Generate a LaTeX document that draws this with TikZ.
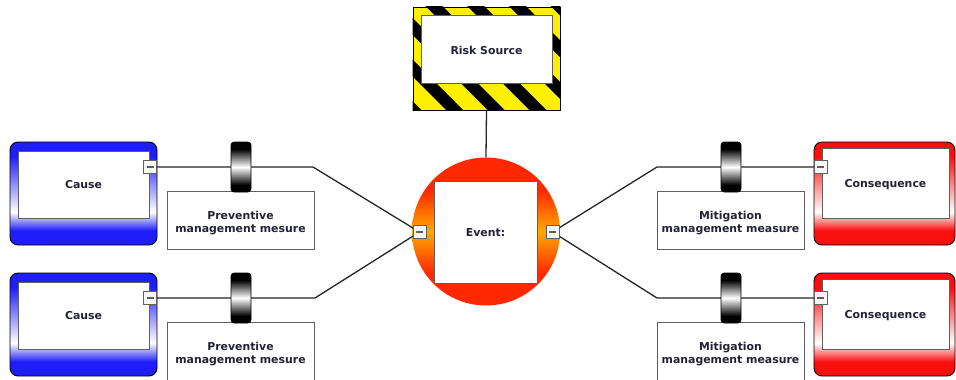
\documentclass[tikz,border=0pt]{standalone}
\usepackage{fontspec}
\setmainfont{DejaVu Sans}
\definecolor{cblue}{RGB}{30,30,250}
\definecolor{cred}{RGB}{250,15,15}
\definecolor{ered}{RGB}{255,40,0}
\definecolor{eorange}{RGB}{255,170,0}
\definecolor{txt}{RGB}{35,35,55}
\definecolor{hz}{RGB}{255,240,0}
\definecolor{edgegray}{RGB}{95,95,95}
\pgfdeclareverticalshading{causeshade}{100bp}{color(0bp)=(cblue); color(32bp)=(cblue); color(41bp)=(white); color(68bp)=(cblue); color(100bp)=(cblue)}
\pgfdeclareverticalshading{consshade}{100bp}{color(0bp)=(cred); color(32bp)=(cred); color(41bp)=(white); color(68bp)=(cred); color(100bp)=(cred)}
\pgfdeclareverticalshading{eventshade}{100bp}{color(0bp)=(ered); color(36bp)=(ered); color(50bp)=(eorange); color(64bp)=(ered); color(100bp)=(ered)}
\pgfdeclareverticalshading{barshade}{100bp}{color(0bp)=(black); color(32bp)=(black); color(50bp)=(white); color(68bp)=(black); color(100bp)=(black)}
\tikzset{
  lbl/.style={font=\fontsize{10.9}{13}\selectfont\bfseries, text=txt, align=center, inner sep=0pt},
  outerbox/.style={draw=black, line width=0.9pt, rounded corners=8pt, minimum width=147pt, minimum height=103pt, inner sep=0pt},
  innerbox/.style={draw=edgegray, line width=0.9pt, fill=white, inner sep=0pt},
  minusbox/.style={draw=edgegray, line width=0.8pt, fill=white!94!gray, minimum size=13pt, inner sep=0pt,
    path picture={\draw[edgegray, line width=1.1pt] ([xshift=-3.5pt]path picture bounding box.center) -- ([xshift=3.5pt]path picture bounding box.center);}},
  barrierbox/.style={draw=black, line width=0.6pt, rounded corners=3pt, shading=barshade, minimum width=20pt, minimum height=50pt, inner sep=0pt},
  measurebox/.style={draw=edgegray, line width=0.9pt, fill=white, minimum width=147pt, minimum height=58pt, inner sep=0pt},
  linkline/.style={draw=black!85, line width=1.3pt}
}
\begin{document}
\begin{tikzpicture}[x=1pt, y=-1pt]
\clip (0,0) rectangle (956,380);
\fill[white] (0,0) rectangle (956,380);

% ---------- Risk source ----------
\node[draw=black, line width=0.9pt, fill=hz, minimum width=147pt, minimum height=103pt, inner sep=0pt] (riskouter) at (486.5,58.5) {};
\begin{scope}
  \clip (riskouter.south west) rectangle (riskouter.north east);
  \foreach \k in {-1,...,6} {
    \pgfmathsetmacro{\c}{336+41.7*\k}
    \fill[black] (\c,0) -- (\c+17,0) -- (\c+137,120) -- (\c+120,120) -- cycle;
  }
\end{scope}
\node[draw=black, line width=0.9pt, minimum width=147pt, minimum height=103pt, inner sep=0pt] at (riskouter.center) {};
\node[innerbox, minimum width=131pt, minimum height=68pt] (risk) at (486.5,49) {};
\node[lbl] (riskt) at ([yshift=-1pt]risk.center) {Risk Source};

% ---------- Event ----------
\node[circle, shading=eventshade, minimum size=148pt, inner sep=0pt] (event) at (486,231.5) {};
\node[innerbox, minimum width=103pt, minimum height=102pt] (eventbox) at (485.5,232) {};
\node[lbl] (eventt) at ([yshift=-1pt]eventbox.center) {Event:};

% ---------- Causes ----------
\node[outerbox, shading=causeshade] (cause1) at (83.5,193.5) {};
\node[innerbox, minimum width=131pt, minimum height=67pt] (cause1in) at (83.5,184.5) {};
\node[lbl] (cause1t) at ([yshift=-0.5pt]cause1in.center) {Cause};
\node[outerbox, shading=causeshade] (cause2) at (83.5,324.5) {};
\node[innerbox, minimum width=131pt, minimum height=67pt] (cause2in) at (83.5,315.5) {};
\node[lbl] (cause2t) at ([yshift=-0.5pt]cause2in.center) {Cause};

% ---------- Consequences ----------
\node[outerbox, shading=consshade, minimum width=141pt] (cons1) at (884.5,193.5) {};
\node[innerbox, minimum width=127pt, minimum height=70pt] (cons1in) at (885.5,183) {};
\node[lbl] (cons1t) at ([yshift=-1.5pt]cons1in.center) {Consequence};
\node[outerbox, shading=consshade, minimum width=141pt] (cons2) at (884.5,324.5) {};
\node[innerbox, minimum width=127pt, minimum height=70pt] (cons2in) at (885.5,314) {};
\node[lbl] (cons2t) at ([yshift=-1.5pt]cons2in.center) {Consequence};

% ---------- Measures ----------
\node[measurebox] (prev1) at (240.5,220) {};
\node[lbl] (prev1t) at ([yshift=-3.5pt]prev1.center) {Preventive\\management mesure};
\node[measurebox] (prev2) at (240.5,351) {};
\node[lbl] (prev2t) at ([yshift=-3.5pt]prev2.center) {Preventive\\management mesure};
\node[measurebox] (mit1) at (730.5,220) {};
\node[lbl] (mit1t) at ([yshift=-3.5pt]mit1.center) {Mitigation\\management measure};
\node[measurebox] (mit2) at (730.5,351) {};
\node[lbl] (mit2t) at ([yshift=-3.5pt]mit2.center) {Mitigation\\management measure};

% ---------- Minus box positions ----------
\coordinate (c1m) at (150,167);
\coordinate (c2m) at (150,298);
\coordinate (k1m) at (820.5,167);
\coordinate (k2m) at (820.5,298);
\coordinate (eml) at (419.5,232);
\coordinate (emr) at (552.5,232);

% ---------- Bend points ----------
\coordinate (b1) at (313,167);
\coordinate (b2) at (315,298);
\coordinate (b3) at (657,167);
\coordinate (b4) at (657,298);

% ---------- Connectors ----------
\draw[linkline] (riskouter.south) -- (event.north);
\draw[linkline] (c1m) -- (b1) -- (eml);
\draw[linkline] (c2m) -- (b2) -- (eml);
\draw[linkline] (emr) -- (b3) -- (k1m);
\draw[linkline] (emr) -- (b4) -- (k2m);

% ---------- Barriers ----------
\node[barrierbox] (bar1) at (241,167) {};
\node[barrierbox] (bar2) at (241,298) {};
\node[barrierbox] (bar3) at (731,167) {};
\node[barrierbox] (bar4) at (731,298) {};

% ---------- Minus boxes (on top of connectors) ----------
\node[minusbox] (c1mb) at (c1m) {};
\node[minusbox] (c2mb) at (c2m) {};
\node[minusbox] (k1mb) at (k1m) {};
\node[minusbox] (k2mb) at (k2m) {};
\node[minusbox] (emlb) at (eml) {};
\node[minusbox] (emrb) at (emr) {};
\end{tikzpicture}
\end{document}
